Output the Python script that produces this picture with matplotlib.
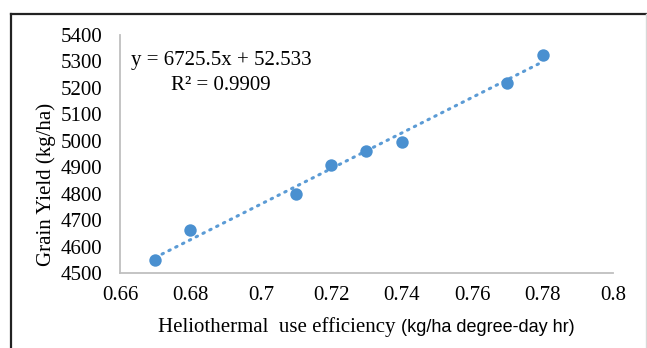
import matplotlib
matplotlib.use("Agg")
import matplotlib.pyplot as plt
from matplotlib.lines import Line2D
import numpy as np

# Data
efficiency = [0.67, 0.68, 0.71, 0.72, 0.73, 0.74, 0.77, 0.78]
grain_yield = [4550, 4662, 4797, 4908, 4963, 4995, 5220, 5325]
slope = 6725.5
intercept = 52.533
r_squared = 0.9909
x_ticks = [0.66, 0.68, 0.70, 0.72, 0.74, 0.76, 0.78, 0.80]
x_tick_labels = ["0.66", "0.68", "0.7", "0.72", "0.74", "0.76", "0.78", "0.8"]
y_ticks = [4500, 4600, 4700, 4800, 4900, 5000, 5100, 5200, 5300, 5400]

W, H = 647, 348
fig = plt.figure(figsize=(W / 100, H / 100), dpi=100)
fig.patch.set_facecolor("white")

# axes placement in pixels
left, right, top, bottom = 120, 613, 35, 273
ax = fig.add_axes([left / W, 1 - bottom / H, (right - left) / W, (bottom - top) / H])

serif = "Liberation Serif"
blue = "#4A90D0"
line_blue = "#5B9BD5"
fs = 15

xs = np.array([min(efficiency), max(efficiency)])
ax.plot(xs, slope * xs + intercept, linestyle=(0, (0.5, 2.0)), dash_capstyle="round",
        color=line_blue, linewidth=2.2, zorder=2)
ax.scatter(efficiency, grain_yield, s=80, color=blue, zorder=3, linewidths=0)

ax.set_xlim(0.66, 0.80)
ax.set_ylim(4500, 5400)
ax.set_xticks(x_ticks)
ax.set_xticklabels(x_tick_labels, fontfamily=serif, fontsize=fs)
ax.set_yticks(y_ticks)
ax.set_yticklabels([str(v) for v in y_ticks], fontfamily=serif, fontsize=fs)
ax.tick_params(axis="y", length=0, pad=13)
ax.tick_params(axis="x", length=0, pad=9)
for s in ["top", "right"]:
    ax.spines[s].set_visible(False)
for s in ["left", "bottom"]:
    ax.spines[s].set_color("#BFBFBF")
    ax.spines[s].set_linewidth(1.3)

ax.text(11 / (right - left), 1 - (61 - top) / (bottom - top), "y = 6725.5x + 52.533",
        transform=ax.transAxes, fontfamily=serif, fontsize=fs, va="center", ha="left")
ax.text(51 / (right - left), 1 - (85 - top) / (bottom - top), "R² = 0.9909",
        transform=ax.transAxes, fontfamily=serif, fontsize=fs, va="center", ha="left")

# axis labels
fig.text(46 / W, 1 - 184 / H, "Grain Yield (kg/ha)", rotation=90, fontfamily=serif,
         fontsize=fs, ha="center", va="center")
t1 = fig.text(158 / W, 1 - 327 / H, "Heliothermal  use efficiency ", fontfamily=serif,
              fontsize=fs, ha="left", va="center")
fig.canvas.draw()
bb = t1.get_window_extent()
fig.text(bb.x1 / W, 1 - 327 / H, "(kg/ha degree-day hr)", fontfamily="Liberation Sans",
         fontsize=13, ha="left", va="center")

# figure border (top and left dark, right faint)
yt = 1 - 13.5 / H
fig.add_artist(Line2D([10.5 / W, 1], [yt, yt], transform=fig.transFigure,
                      color="#222222", linewidth=1.6))
fig.add_artist(Line2D([10.5 / W, 10.5 / W], [0, yt], transform=fig.transFigure,
                      color="#222222", linewidth=1.6))
fig.add_artist(Line2D([645.5 / W, 645.5 / W], [0, yt], transform=fig.transFigure,
                      color="#D8D8D8", linewidth=1.0))

fig.savefig("out.png", dpi=100)
